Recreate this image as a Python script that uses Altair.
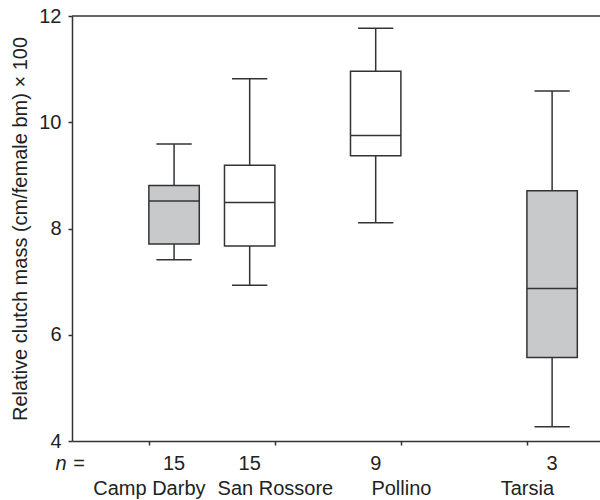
import altair as alt
import pandas as pd

sites = ["Camp Darby", "San Rossore", "Pollino", "Tarsia"]
site_index = [1, 2, 3, 4]
n_values = ["15", "15", "9", "3"]
groups = ["grey", "white", "white", "grey"]
whisker_low = [7.41, 6.93, 8.11, 4.27]
q1 = [7.71, 7.67, 9.37, 5.57]
median = [8.52, 8.49, 9.75, 6.87]
q3 = [8.81, 9.19, 10.96, 8.71]
whisker_high = [9.59, 10.82, 11.77, 10.59]

df = pd.DataFrame({
    "site": sites, "idx": site_index, "n": n_values, "group": groups,
    "lo": whisker_low, "q1": q1, "med": median, "q3": q3, "hi": whisker_high,
})

FONT = "Liberation Sans"
LINE = "#333333"
TEXT = "#222222"
YTITLE = "Relative clutch mass (cm/female bm) × 100"

xscale = alt.Scale(domain=[0.39, 4.58], nice=False, zero=False)
yscale = alt.Scale(domain=[4, 12], nice=False, zero=False)

label_expr = "[" + ",".join("'" + s + "'" for s in sites) + "][datum.value - 1]"
xaxis = alt.Axis(values=site_index, labelExpr=label_expr, title=None,
                 tickSize=4, labelPadding=33, grid=False)
yaxis = alt.Axis(values=[4, 6, 8, 10, 12], title=YTITLE,
                 tickSize=4, labelPadding=7, grid=False, titlePadding=8)


def X(field):
    return alt.X(field, scale=xscale, axis=xaxis)


def Y(field):
    return alt.Y(field, scale=yscale, axis=yaxis)


base = alt.Chart(df).transform_calculate(
    pos="datum.idx + (datum.group == 'grey' ? 0.2 : -0.2)"
).transform_calculate(
    bl="datum.pos - 0.2", br="datum.pos + 0.2",
    cl="datum.pos - 0.14", cr="datum.pos + 0.14",
)

whisker = base.mark_rule(color=LINE, strokeWidth=1.5).encode(
    x=X("pos:Q"), y=Y("lo:Q"), y2="hi:Q",
)

box = base.mark_rect(stroke=LINE, strokeWidth=1.5).encode(
    x=X("bl:Q"), x2="br:Q", y=Y("q1:Q"), y2="q3:Q",
    fill=alt.Fill("group:N", scale=alt.Scale(domain=["grey", "white"], range=["#c8c9cb", "#ffffff"]), legend=None),
)

med_rule = base.mark_rule(color=LINE, strokeWidth=1.5).encode(
    x=X("bl:Q"), x2="br:Q", y=Y("med:Q"),
)

cap_lo = base.mark_rule(color=LINE, strokeWidth=1.5).encode(
    x=X("cl:Q"), x2="cr:Q", y=Y("lo:Q"),
)
cap_hi = base.mark_rule(color=LINE, strokeWidth=1.5).encode(
    x=X("cl:Q"), x2="cr:Q", y=Y("hi:Q"),
)

n_text = base.mark_text(font=FONT, fontSize=20, color=TEXT, baseline="middle").encode(
    x=X("pos:Q"), y=alt.value(448), text="n:N",
)

n_italic = alt.Chart(pd.DataFrame({"t": ["n"]})).mark_text(
    font=FONT, fontSize=20, fontStyle="italic", color=TEXT, baseline="middle").encode(
    x=alt.value(-11), y=alt.value(448), text="t:N")
n_eq = alt.Chart(pd.DataFrame({"t": ["="]})).mark_text(
    font=FONT, fontSize=20, color=TEXT, baseline="middle").encode(
    x=alt.value(7), y=alt.value(448), text="t:N")

top = alt.Chart(pd.DataFrame({"v": [12]})).mark_rule(color=LINE, strokeWidth=1.5).encode(
    y=Y("v:Q"))

chart = alt.layer(whisker, box, med_rule, cap_lo, cap_hi, top, n_text, n_italic, n_eq).properties(
    width=528, height=425,
    autosize=alt.AutoSizeParams(type="none"),
    padding={"left": 72, "top": 16, "right": 0, "bottom": 59},
    background="white",
).configure_view(stroke=None).configure_axis(
    domainColor=LINE, domainWidth=1.5, tickColor=LINE, tickWidth=1.5,
    labelFont=FONT, labelFontSize=20, labelColor=TEXT,
    titleFont=FONT, titleFontSize=20, titleFontWeight="normal", titleColor=TEXT,
)

chart.save("out.html", embed_options={"renderer": "svg", "actions": False})
